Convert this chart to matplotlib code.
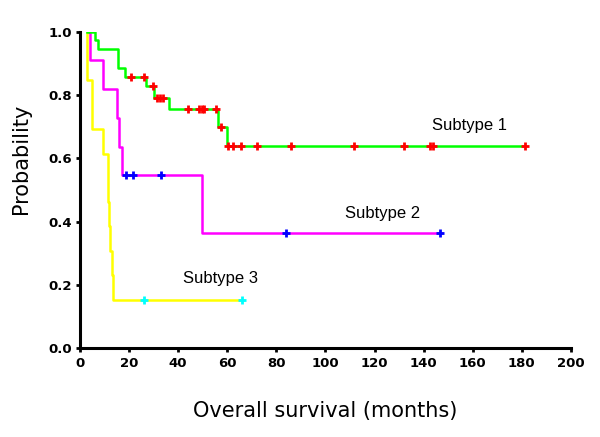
import matplotlib
matplotlib.use("Agg")
import matplotlib.pyplot as plt
import numpy as np

# Kaplan-Meier step curves (months, survival probability)
sub1_t = [3.0, 6.0, 7.4, 15.5, 18.3, 26.9, 30.1, 36.3, 56.1, 59.7, 181.3]
sub1_s = [1.0, 0.974, 0.945, 0.885, 0.858, 0.829, 0.791, 0.755, 0.698, 0.638, 0.638]
sub1_cens = [20.8, 26.0, 29.8, 31.5, 32.6, 33.9, 44.1, 48.5, 49.8, 50.5, 55.4,
             57.3, 60.4, 62.2, 65.6, 72.2, 86.0, 111.6, 132.0, 142.6, 143.6, 181.3]

sub2_t = [3.5, 4.1, 9.2, 14.9, 16.0, 17.2, 49.8, 147.0]
sub2_s = [1.0, 0.909, 0.818, 0.727, 0.636, 0.548, 0.365, 0.365]
sub2_cens = [18.6, 21.7, 32.9, 83.8, 146.5]

sub3_t = [2.7, 3.0, 4.8, 9.2, 11.3, 11.6, 12.0, 12.3, 12.9, 13.6, 66.4]
sub3_s = [1.0, 0.846, 0.692, 0.615, 0.538, 0.462, 0.385, 0.308, 0.231, 0.152, 0.152]
sub3_cens = [26.0, 66.0]

labels = ["Subtype 1", "Subtype 2", "Subtype 3"]
label_pos = [(143.5, 0.705), (108.0, 0.425), (42.0, 0.22)]
line_colors = ["#00ff00", "#ff00ff", "#ffff00"]
cens_colors = ["#ff0000", "#0000ff", "#00ffff"]


def surv_at(t_steps, s_steps, t):
    idx = np.searchsorted(t_steps, t, side="right") - 1
    return np.array(s_steps)[np.clip(idx, 0, len(s_steps) - 1)]


fig = plt.figure(figsize=(6, 4.37), dpi=100)
ax = fig.add_axes([0.1333, 0.203, 0.8183, 0.7245])

curves = [(sub1_t, sub1_s, sub1_cens), (sub2_t, sub2_s, sub2_cens), (sub3_t, sub3_s, sub3_cens)]
for i in [2, 1, 0]:
    t, s, c = curves[i]
    ax.plot(t, s, drawstyle="steps-post", color=line_colors[i], lw=1.8, zorder=2)
    ax.plot(c, surv_at(t, s, c), ls="none", marker="+", ms=6, mew=2,
            color=cens_colors[i], zorder=3)

for lab, (x, y) in zip(labels, label_pos):
    ax.text(x, y, lab, fontsize=12, family="Liberation Sans", va="center", ha="left")

ax.set_xlim(0, 200)
ax.set_ylim(0, 1.0)
ax.set_xticks(np.arange(0, 201, 20))
ax.set_yticks(np.arange(0, 1.01, 0.2))
ax.set_yticklabels([f"{v:.1f}" for v in np.arange(0, 1.01, 0.2)])
for sp in ["top", "right"]:
    ax.spines[sp].set_visible(False)
for sp in ["left", "bottom"]:
    ax.spines[sp].set_linewidth(2.2)
ax.tick_params(direction="out", length=3, width=2, labelsize=9.5, pad=3)
for lbl in ax.get_xticklabels() + ax.get_yticklabels():
    lbl.set_fontweight("bold")

ax.set_xlabel("Overall survival (months)", fontsize=15)
ax.xaxis.set_label_coords(0.5, -0.167)
ax.set_ylabel("Probability", fontsize=15)
ax.yaxis.set_label_coords(-0.10, 0.6)

fig.savefig("out.png", dpi=100)
